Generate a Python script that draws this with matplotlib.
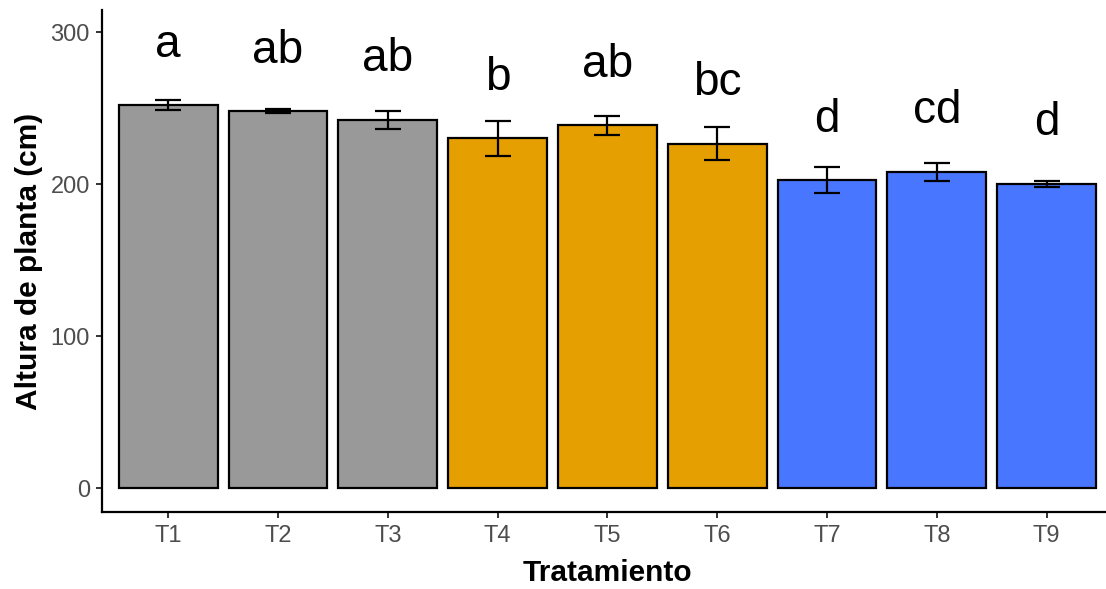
import matplotlib
matplotlib.use('Agg')
import matplotlib.pyplot as plt

# data
treatments = ['T1', 'T2', 'T3', 'T4', 'T5', 'T6', 'T7', 'T8', 'T9']
means = [252, 248, 242.3, 230.2, 238.9, 226.7, 202.6, 208.1, 200.2]
errors = [3.3, 1.3, 5.7, 11.5, 6.3, 11.0, 8.6, 6.1, 1.8]
letters = ['a', 'ab', 'ab', 'b', 'ab', 'bc', 'd', 'cd', 'd']
bar_colors = ['#999999'] * 3 + ['#E69F00'] * 3 + ['#4876FF'] * 3

plt.rcParams['font.family'] = ['Liberation Sans', 'DejaVu Sans']

W, H = 1106, 589
fig = plt.figure(figsize=(W / 100, H / 100), dpi=100)
ax = fig.add_axes([102.3 / W, (H - 512.3) / H, (1112.6 - 102.3) / W, (512.3 - 10) / H])

x = list(range(1, len(treatments) + 1))
ax.bar(x, means, width=0.9, color=bar_colors, edgecolor='black', linewidth=1.6, zorder=2)
ax.errorbar(x, means, yerr=errors, fmt='none', ecolor='black', elinewidth=1.6,
            capsize=9.7, capthick=1.6, zorder=3)

for xi, m, lab in zip(x, means, letters):
    ax.text(xi, m + 32, lab, ha='center', va='baseline', fontsize=33, color='black')

ax.set_xlim(0.4, 9.6)
ax.set_ylim(-15.8, 314.7)
ax.set_xticks(x)
ax.set_xticklabels(treatments)
ax.set_yticks([0, 100, 200, 300])

for side in ['top', 'right']:
    ax.spines[side].set_visible(False)
for side in ['left', 'bottom']:
    ax.spines[side].set_linewidth(1.6)
    ax.spines[side].set_color('black')

ax.tick_params(axis='both', length=4, width=1.4, color='#333333',
               labelcolor='#4D4D4D', labelsize=17, pad=5)

ax.set_xlabel('Tratamiento', fontsize=21.5, fontweight='bold', labelpad=9)
ax.set_ylabel('Altura de planta (cm)', fontsize=21.5, fontweight='bold', labelpad=5)

fig.savefig('out.png', dpi=100)
